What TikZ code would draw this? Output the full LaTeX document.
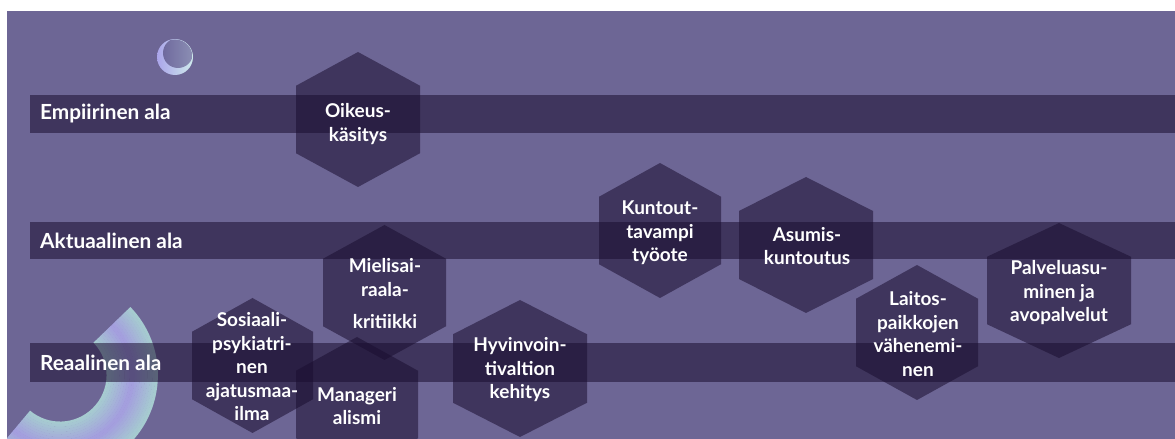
\documentclass[tikz,border=0pt]{standalone}
\usepackage{fontspec}
\setmainfont{Lato}
\definecolor{bgpurple}{HTML}{6D6695}
\definecolor{bandshade}{HTML}{1A0E30}
\definecolor{ringlav}{HTML}{A49DDF}
\definecolor{ringcyan}{HTML}{A6CCD0}
\definecolor{spherelav}{HTML}{ABA5EA}
\definecolor{spherecyan}{HTML}{CFEBEC}
\definecolor{spheredark}{HTML}{6F6A9E}
\definecolor{spheredarkb}{HTML}{8C8FB4}

\tikzset{
  band/.style={fill=bandshade, fill opacity=0.55},
  hexfill/.style={fill=bandshade, fill opacity=0.55},
  bandlabel/.style={text=white, anchor=west, inner sep=0pt,
    font=\fontsize{20.8bp}{24bp}\selectfont\bfseries},
  hexlabel/.style={text=white, align=center, inner sep=0pt,
    font=\fontsize{19bp}{23.5bp}\selectfont\bfseries},
}

% pointy-top hexagon: centre x, centre y, half width, half height
\newcommand\hexcell[4]{%
  \fill[hexfill] ({#1},{#2-#4}) -- ({#1+#3},{#2-#4/2}) -- ({#1+#3},{#2+#4/2})
    -- ({#1},{#2+#4}) -- ({#1-#3},{#2+#4/2}) -- ({#1-#3},{#2-#4/2}) -- cycle;}

\begin{document}
\begin{tikzpicture}[x=1bp,y=-1bp]
\useasboundingbox (0,0) rectangle (1175,439);
\fill[white] (0,0) rectangle (1175,439);
\fill[bgpurple] (7,11) rectangle (1175,439);

\begin{scope}
  \clip (7,11) rectangle (1175,439);
  % glass sphere
  \shade[left color=spherelav, right color=spherecyan] (175,57) circle[radius=18];
  \begin{scope}
    \clip (175,57) circle[radius=17.5];
    \shade[left color=spheredark, right color=spheredarkb] (178,53) circle[radius=15];
  \end{scope}
  % ring arc in the lower left corner, shaded across its width
  \foreach \i in {0,...,19} {
    \pgfmathsetmacro\r{48+2.55*\i}
    \pgfmathsetmacro\m{int(abs(\i-9.5)*10.5)}
    \draw[ringcyan!\m!ringlav, line width=2.9bp]
      (60,375) ++(-44:\r) arc[start angle=-44, end angle=130, radius=\r];
  }
\end{scope}

% horizontal bands
\fill[band] (30,95) rectangle (1175,133);
\fill[band] (30,222) rectangle (1175,259);
\fill[band] (30,343) rectangle (1175,382);

\node[bandlabel] (empiirinen) at (40,114) {Empiirinen ala};
\node[bandlabel] (aktuaalinen) at (40,241) {Aktuaalinen ala};
\node[bandlabel] (reaalinen) at (40,363) {Reaalinen ala};

% hexagons
\hexcell{358}{119.5}{62}{67.5}
\hexcell{252.5}{365.5}{60.5}{67.5}
\hexcell{384.5}{292.5}{61.5}{67.5}
\hexcell{357}{404.5}{61}{67.5}
\hexcell{520}{368.5}{67}{68.5}
\hexcell{660}{230.5}{61}{67.5}
\hexcell{806}{245}{67}{68}
\hexcell{917}{332.5}{61}{67.5}
\hexcell{1059}{290.5}{72}{67.5}

% hexagon texts
\node[hexlabel] (oikeus) at (358,124) {Oikeus-\\käsitys};
\node[hexlabel] (sosiaali) at (252,367) {Sosiaali-\\psykiatri-\\nen\\ajatusmaa-\\ilma};
\node[hexlabel] (mielisairaala) at (385,294) {Mielisai-\\raala-\\[9bp]kritiikki};
\node[hexlabel] (manageri) at (357,406) {Manageri\\alismi};
\node[hexlabel] (hyvinvointi) at (520,370) {Hyvinvoin-\\tivaltion\\kehitys};
\node[hexlabel] (kuntouttavampi) at (660,233) {Kuntout-\\tavampi\\työote};
\node[hexlabel] (asumis) at (807,246) {Asumis-\\kuntoutus};
\node[hexlabel] (laitos) at (918,334) {Laitos-\\paikkojen\\vähenemi-\\nen};
\node[hexlabel] (palvelu) at (1059,293) {Palveluasu-\\minen ja\\avopalvelut};
\end{tikzpicture}
\end{document}
